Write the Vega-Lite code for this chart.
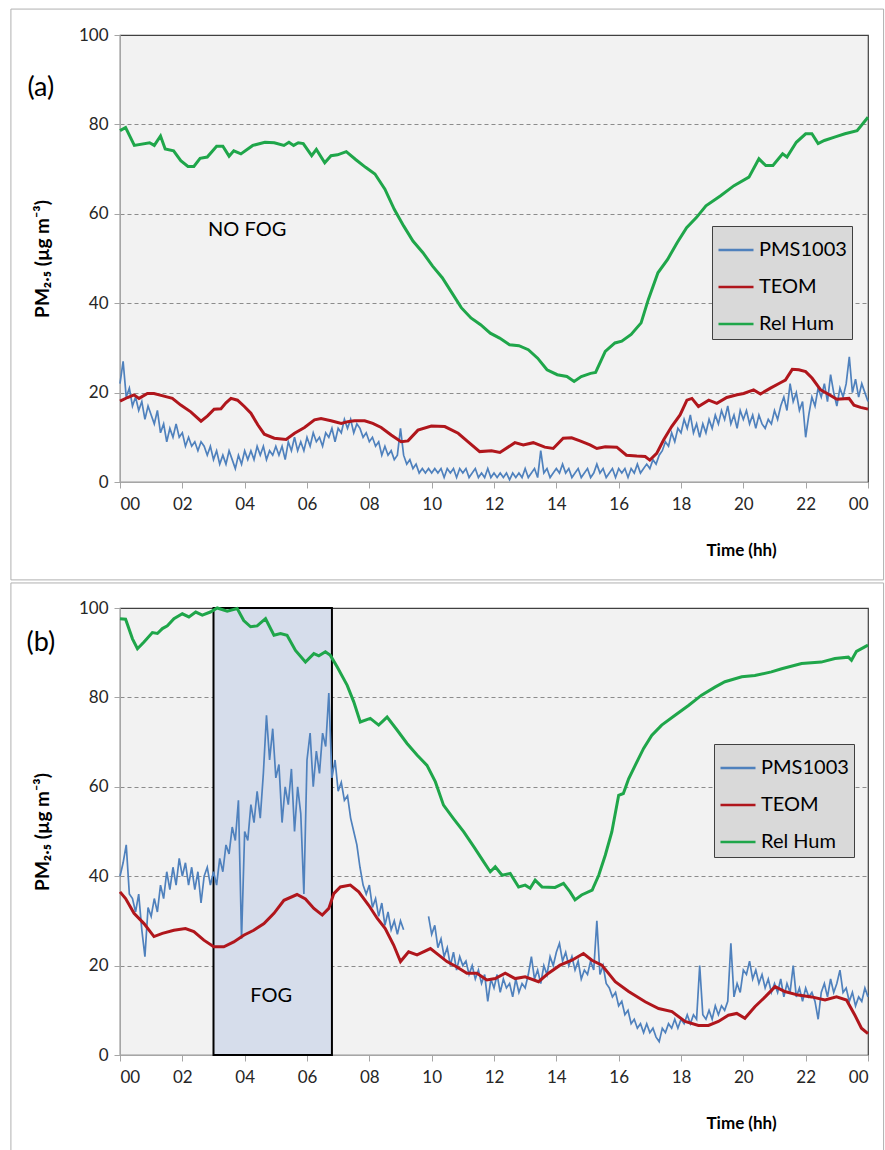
{
"$schema":"https://vega.github.io/schema/vega-lite/v6.json",
"padding":{"left":9,"top":7,"right":0,"bottom":0},
"background":"white",
"spacing":0,
"config":{
 "font":"Lato",
 "view":{"fill":"#f2f2f2","stroke":"#404040","strokeWidth":1.2},
 "axis":{"labelFont":"Lato","labelFontSize":17,"labelColor":"#262626","domainColor":"#a6a6a6","tickColor":"#a6a6a6","tickSize":6,"titleFont":"Lato","titleFontSize":19,"titleFontWeight":"bold","titleColor":"#000000"},
 "legend":{"symbolType":"stroke","symbolSize":1225,"symbolStrokeWidth":2.5,"labelFont":"Lato","labelFontSize":20,"labelColor":"#000000","fillColor":"#d9d9d9","strokeColor":"#404040","padding":5,"rowPadding":8,"labelOffset":4,"labelLimit":200}
},
"datasets":{
"pms":[
{"t":0,"a":22,"b":40},{"t":0.1,"a":27,"b":43},{"t":0.2,"a":19,"b":47},{"t":0.3,"a":21,"b":36},{"t":0.4,"a":17,"b":35},{"t":0.5,"a":19,"b":32},{"t":0.6,"a":16,"b":36},{"t":0.7,"a":18,"b":28},{"t":0.8,"a":14,"b":22},{"t":0.9,"a":17,"b":33},
{"t":1.0,"a":15,"b":31},{"t":1.1,"a":13,"b":35},{"t":1.2,"a":16,"b":32},{"t":1.3,"a":11,"b":38},{"t":1.4,"a":13,"b":35},{"t":1.5,"a":9,"b":41},{"t":1.6,"a":12,"b":37},{"t":1.7,"a":10,"b":42},{"t":1.8,"a":13,"b":38},{"t":1.9,"a":10,"b":44},
{"t":2.0,"a":11,"b":40},{"t":2.1,"a":8,"b":43},{"t":2.2,"a":10,"b":38},{"t":2.3,"a":8,"b":42},{"t":2.4,"a":9,"b":37},{"t":2.5,"a":7,"b":41},{"t":2.6,"a":9,"b":34},{"t":2.7,"a":8,"b":40},{"t":2.8,"a":6,"b":42},{"t":2.9,"a":8,"b":38},
{"t":3.0,"a":5,"b":41},{"t":3.1,"a":7,"b":38},{"t":3.2,"a":4,"b":44},{"t":3.3,"a":6,"b":41},{"t":3.4,"a":4,"b":47},{"t":3.5,"a":7,"b":45},{"t":3.6,"a":5,"b":51},{"t":3.7,"a":3,"b":48},{"t":3.8,"a":6,"b":57},{"t":3.9,"a":4,"b":26},
{"t":4.0,"a":7,"b":50},{"t":4.1,"a":5,"b":48},{"t":4.2,"a":7,"b":56},{"t":4.3,"a":5,"b":52},{"t":4.4,"a":8,"b":59},{"t":4.5,"a":6,"b":53},{"t":4.6,"a":8,"b":63},{"t":4.7,"a":5,"b":76},{"t":4.8,"a":7,"b":66},{"t":4.9,"a":6,"b":73},
{"t":5.0,"a":8,"b":62},{"t":5.1,"a":6,"b":65},{"t":5.2,"a":8,"b":52},{"t":5.3,"a":5,"b":60},{"t":5.4,"a":9,"b":56},{"t":5.5,"a":7,"b":64},{"t":5.6,"a":10,"b":50},{"t":5.7,"a":7,"b":60},{"t":5.8,"a":9,"b":54},{"t":5.9,"a":7,"b":36},
{"t":6.0,"a":10,"b":66},{"t":6.1,"a":8,"b":72},{"t":6.2,"a":11,"b":60},{"t":6.3,"a":9,"b":68},{"t":6.4,"a":10,"b":63},{"t":6.5,"a":8,"b":72},{"t":6.6,"a":11,"b":69},{"t":6.7,"a":10,"b":81},{"t":6.8,"a":12,"b":62},{"t":6.9,"a":9,"b":66},
{"t":7.0,"a":12,"b":59},{"t":7.1,"a":11,"b":61},{"t":7.2,"a":14,"b":57},{"t":7.3,"a":12,"b":58},{"t":7.4,"a":14,"b":53},{"t":7.5,"a":11,"b":50},{"t":7.6,"a":13,"b":47},{"t":7.7,"a":12,"b":42},{"t":7.8,"a":10,"b":38},{"t":7.9,"a":11,"b":36},
{"t":8.0,"a":9,"b":38},{"t":8.1,"a":10,"b":33},{"t":8.2,"a":8,"b":35},{"t":8.3,"a":9,"b":31},{"t":8.4,"a":6,"b":34},{"t":8.5,"a":8,"b":29},{"t":8.6,"a":6,"b":32},{"t":8.7,"a":7,"b":28},{"t":8.8,"a":5,"b":30},{"t":8.9,"a":6,"b":27},
{"t":9.0,"a":12,"b":30},{"t":9.1,"a":6,"b":28},{"t":9.2,"a":4,"b":null},{"t":9.3,"a":5,"b":null},{"t":9.4,"a":3,"b":null},{"t":9.5,"a":4,"b":null},{"t":9.6,"a":2,"b":null},{"t":9.7,"a":3,"b":null},{"t":9.8,"a":2,"b":null},{"t":9.9,"a":3,"b":31},
{"t":10.0,"a":2,"b":27},{"t":10.1,"a":3,"b":29},{"t":10.2,"a":2,"b":24},{"t":10.3,"a":3,"b":26},{"t":10.4,"a":1,"b":22},{"t":10.5,"a":3,"b":24},{"t":10.6,"a":2,"b":20},{"t":10.7,"a":3,"b":23},{"t":10.8,"a":1,"b":19},{"t":10.9,"a":3,"b":22},
{"t":11.0,"a":2,"b":20},{"t":11.1,"a":3,"b":21},{"t":11.2,"a":1,"b":18},{"t":11.3,"a":2,"b":20},{"t":11.4,"a":3,"b":17},{"t":11.5,"a":1,"b":19},{"t":11.6,"a":2,"b":16},{"t":11.7,"a":1,"b":18},{"t":11.8,"a":3,"b":12},{"t":11.9,"a":1,"b":17},
{"t":12.0,"a":2,"b":15},{"t":12.1,"a":1,"b":18},{"t":12.2,"a":2,"b":14},{"t":12.3,"a":1,"b":17},{"t":12.4,"a":2,"b":15},{"t":12.5,"a":0.5,"b":16},{"t":12.6,"a":2,"b":13},{"t":12.7,"a":1,"b":17},{"t":12.8,"a":2,"b":14},{"t":12.9,"a":1,"b":16},
{"t":13.0,"a":3,"b":15},{"t":13.1,"a":1,"b":18},{"t":13.2,"a":2,"b":22},{"t":13.3,"a":3,"b":17},{"t":13.4,"a":1,"b":19},{"t":13.5,"a":7,"b":16},{"t":13.6,"a":2,"b":20},{"t":13.7,"a":3,"b":18},{"t":13.8,"a":1,"b":22},{"t":13.9,"a":2,"b":20},
{"t":14.0,"a":3,"b":23},{"t":14.1,"a":2,"b":25},{"t":14.2,"a":4,"b":21},{"t":14.3,"a":2,"b":23},{"t":14.4,"a":3,"b":20},{"t":14.5,"a":1,"b":22},{"t":14.6,"a":2,"b":19},{"t":14.7,"a":3,"b":21},{"t":14.8,"a":1,"b":17},{"t":14.9,"a":2,"b":19},
{"t":15.0,"a":3,"b":18},{"t":15.1,"a":1,"b":21},{"t":15.2,"a":2,"b":19},{"t":15.3,"a":4,"b":30},{"t":15.4,"a":2,"b":18},{"t":15.5,"a":3,"b":20},{"t":15.6,"a":1,"b":16},{"t":15.7,"a":2,"b":15},{"t":15.8,"a":3,"b":13},{"t":15.9,"a":1,"b":14},
{"t":16.0,"a":3,"b":11},{"t":16.1,"a":2,"b":12},{"t":16.2,"a":3,"b":9},{"t":16.3,"a":1,"b":10},{"t":16.4,"a":3,"b":7},{"t":16.5,"a":2,"b":8},{"t":16.6,"a":4,"b":6},{"t":16.7,"a":2,"b":7},{"t":16.8,"a":3,"b":5},{"t":16.9,"a":4,"b":7},
{"t":17.0,"a":3,"b":5},{"t":17.1,"a":5,"b":6},{"t":17.2,"a":4,"b":4},{"t":17.3,"a":6,"b":3},{"t":17.4,"a":7,"b":6},{"t":17.5,"a":9,"b":5},{"t":17.6,"a":8,"b":7},{"t":17.7,"a":11,"b":6},{"t":17.8,"a":9,"b":8},{"t":17.9,"a":12,"b":6},
{"t":18.0,"a":11,"b":8},{"t":18.1,"a":14,"b":7},{"t":18.2,"a":12,"b":9},{"t":18.3,"a":15,"b":7},{"t":18.4,"a":11,"b":9},{"t":18.5,"a":13,"b":8},{"t":18.6,"a":10,"b":20},{"t":18.7,"a":13,"b":9},{"t":18.8,"a":11,"b":8},{"t":18.9,"a":14,"b":10},
{"t":19.0,"a":12,"b":8},{"t":19.1,"a":15,"b":11},{"t":19.2,"a":13,"b":9},{"t":19.3,"a":16,"b":11},{"t":19.4,"a":14,"b":10},{"t":19.5,"a":17,"b":12},{"t":19.6,"a":13,"b":25},{"t":19.7,"a":15,"b":13},{"t":19.8,"a":12,"b":16},{"t":19.9,"a":16,"b":14},
{"t":20.0,"a":14,"b":19},{"t":20.1,"a":16,"b":18},{"t":20.2,"a":13,"b":21},{"t":20.3,"a":15,"b":17},{"t":20.4,"a":12,"b":19},{"t":20.5,"a":15,"b":16},{"t":20.6,"a":13,"b":18},{"t":20.7,"a":12,"b":15},{"t":20.8,"a":14,"b":17},{"t":20.9,"a":13,"b":14},
{"t":21.0,"a":16,"b":16},{"t":21.1,"a":14,"b":14},{"t":21.2,"a":17,"b":17},{"t":21.3,"a":19,"b":13},{"t":21.4,"a":16,"b":16},{"t":21.5,"a":22,"b":14},{"t":21.6,"a":18,"b":20},{"t":21.7,"a":20,"b":13},{"t":21.8,"a":16,"b":15},{"t":21.9,"a":18,"b":12},
{"t":22.0,"a":10,"b":15},{"t":22.1,"a":15,"b":13},{"t":22.2,"a":19,"b":14},{"t":22.3,"a":17,"b":12},{"t":22.4,"a":21,"b":8},{"t":22.5,"a":19,"b":14},{"t":22.6,"a":22,"b":16},{"t":22.7,"a":18,"b":13},{"t":22.8,"a":24,"b":17},{"t":22.9,"a":20,"b":14},
{"t":23.0,"a":17,"b":16},{"t":23.1,"a":21,"b":19},{"t":23.2,"a":19,"b":14},{"t":23.3,"a":22,"b":15},{"t":23.4,"a":28,"b":12},{"t":23.5,"a":20,"b":14},{"t":23.6,"a":23,"b":11},{"t":23.7,"a":19,"b":13},{"t":23.8,"a":22,"b":12},{"t":23.9,"a":20,"b":15},
{"t":24.0,"a":18,"b":13}
],
"ra":[{"t":0,"v":78.6},{"t":0.18,"v":79.3},{"t":0.46,"v":75.3},{"t":0.95,"v":75.9},{"t":1.1,"v":75.3},{"t":1.3,"v":77.4},{"t":1.45,"v":74.5},{"t":1.72,"v":74.1},{"t":1.95,"v":71.9},{"t":2.18,"v":70.6},{"t":2.37,"v":70.6},{"t":2.57,"v":72.4},{"t":2.8,"v":72.7},{"t":3.1,"v":75.1},{"t":3.3,"v":75.1},{"t":3.5,"v":72.9},{"t":3.65,"v":74.1},{"t":3.88,"v":73.4},{"t":4.26,"v":75.3},{"t":4.65,"v":76.0},{"t":4.95,"v":75.9},{"t":5.26,"v":75.3},{"t":5.42,"v":76.0},{"t":5.57,"v":75.3},{"t":5.72,"v":75.9},{"t":5.88,"v":75.7},{"t":6.15,"v":73.0},{"t":6.3,"v":74.4},{"t":6.57,"v":71.4},{"t":6.77,"v":73.0},{"t":6.98,"v":73.2},{"t":7.26,"v":73.9},{"t":7.57,"v":72.1},{"t":7.88,"v":70.4},{"t":8.18,"v":68.9},{"t":8.5,"v":65.5},{"t":8.8,"v":61.0},{"t":9.1,"v":57.3},{"t":9.4,"v":53.9},{"t":9.72,"v":51.3},{"t":10.03,"v":48.3},{"t":10.34,"v":45.7},{"t":10.65,"v":42.3},{"t":10.95,"v":39.0},{"t":11.26,"v":36.7},{"t":11.57,"v":35.2},{"t":11.88,"v":33.3},{"t":12.18,"v":32.2},{"t":12.5,"v":30.7},{"t":12.8,"v":30.5},{"t":13.1,"v":29.6},{"t":13.4,"v":27.7},{"t":13.7,"v":25.1},{"t":14.03,"v":24.0},{"t":14.34,"v":23.6},{"t":14.57,"v":22.5},{"t":14.8,"v":23.6},{"t":15.1,"v":24.3},{"t":15.26,"v":24.5},{"t":15.57,"v":29.2},{"t":15.88,"v":31.1},{"t":16.1,"v":31.5},{"t":16.4,"v":33.0},{"t":16.72,"v":35.6},{"t":16.95,"v":40.8},{"t":17.26,"v":46.8},{"t":17.57,"v":49.8},{"t":17.88,"v":53.6},{"t":18.18,"v":56.9},{"t":18.5,"v":59.2},{"t":18.8,"v":61.8},{"t":19.26,"v":64.0},{"t":19.7,"v":66.3},{"t":20.18,"v":68.2},{"t":20.5,"v":72.3},{"t":20.72,"v":70.8},{"t":20.95,"v":70.8},{"t":21.26,"v":73.4},{"t":21.4,"v":72.7},{"t":21.7,"v":76.0},{"t":22.0,"v":77.9},{"t":22.2,"v":77.9},{"t":22.4,"v":75.7},{"t":22.6,"v":76.4},{"t":22.95,"v":77.2},{"t":23.26,"v":77.9},{"t":23.65,"v":78.6},{"t":24,"v":81.6}],
"ta":[{"t":0,"v":18.1},{"t":0.24,"v":18.9},{"t":0.45,"v":19.5},{"t":0.61,"v":18.7},{"t":0.88,"v":19.8},{"t":1.09,"v":19.8},{"t":1.41,"v":19.2},{"t":1.68,"v":18.7},{"t":1.95,"v":17.2},{"t":2.27,"v":15.7},{"t":2.6,"v":13.6},{"t":2.81,"v":14.8},{"t":3.02,"v":16.3},{"t":3.24,"v":16.4},{"t":3.4,"v":17.7},{"t":3.56,"v":18.7},{"t":3.77,"v":18.3},{"t":3.99,"v":16.9},{"t":4.2,"v":15.4},{"t":4.42,"v":12.8},{"t":4.63,"v":10.7},{"t":4.95,"v":9.8},{"t":5.33,"v":9.5},{"t":5.6,"v":10.9},{"t":5.92,"v":12.2},{"t":6.24,"v":13.9},{"t":6.45,"v":14.2},{"t":6.77,"v":13.7},{"t":7.1,"v":13.1},{"t":7.31,"v":13.5},{"t":7.52,"v":13.7},{"t":7.85,"v":13.7},{"t":8.11,"v":13.1},{"t":8.38,"v":12.2},{"t":8.7,"v":10.5},{"t":9.02,"v":9.0},{"t":9.24,"v":9.2},{"t":9.56,"v":11.6},{"t":9.99,"v":12.5},{"t":10.42,"v":12.4},{"t":10.85,"v":10.9},{"t":11.17,"v":9.0},{"t":11.54,"v":6.8},{"t":11.92,"v":7.0},{"t":12.19,"v":6.6},{"t":12.67,"v":8.8},{"t":12.94,"v":8.3},{"t":13.26,"v":8.8},{"t":13.63,"v":7.8},{"t":13.9,"v":7.5},{"t":14.22,"v":9.8},{"t":14.49,"v":9.9},{"t":14.76,"v":9.2},{"t":15.08,"v":8.3},{"t":15.3,"v":7.5},{"t":15.57,"v":7.9},{"t":15.94,"v":7.8},{"t":16.25,"v":6.0},{"t":16.58,"v":5.8},{"t":16.85,"v":5.7},{"t":17.0,"v":4.9},{"t":17.22,"v":6.4},{"t":17.44,"v":9.4},{"t":17.7,"v":12.4},{"t":17.97,"v":15.0},{"t":18.19,"v":18.3},{"t":18.35,"v":18.7},{"t":18.56,"v":16.9},{"t":18.89,"v":18.3},{"t":19.15,"v":17.6},{"t":19.47,"v":18.9},{"t":19.8,"v":19.5},{"t":20.01,"v":19.8},{"t":20.33,"v":20.6},{"t":20.55,"v":19.7},{"t":20.87,"v":21.0},{"t":21.19,"v":22.2},{"t":21.35,"v":22.8},{"t":21.57,"v":25.2},{"t":21.78,"v":25.1},{"t":22.0,"v":24.7},{"t":22.21,"v":23.2},{"t":22.48,"v":20.6},{"t":22.69,"v":19.8},{"t":23.0,"v":18.5},{"t":23.39,"v":18.7},{"t":23.55,"v":17.2},{"t":23.76,"v":16.7},{"t":24,"v":16.3}],
"rb":[{"t":0,"v":97.6},{"t":0.18,"v":97.5},{"t":0.4,"v":93.1},{"t":0.56,"v":90.9},{"t":0.77,"v":92.4},{"t":1.04,"v":94.5},{"t":1.2,"v":94.3},{"t":1.36,"v":95.4},{"t":1.52,"v":96.0},{"t":1.73,"v":97.6},{"t":2.0,"v":98.7},{"t":2.21,"v":98.0},{"t":2.43,"v":99.1},{"t":2.64,"v":98.4},{"t":2.9,"v":99.1},{"t":3.12,"v":100},{"t":3.44,"v":99.3},{"t":3.76,"v":99.9},{"t":3.97,"v":97.2},{"t":4.19,"v":95.8},{"t":4.4,"v":96.0},{"t":4.67,"v":97.6},{"t":4.94,"v":93.9},{"t":5.15,"v":94.3},{"t":5.36,"v":93.9},{"t":5.63,"v":90.5},{"t":5.95,"v":87.9},{"t":6.22,"v":89.8},{"t":6.38,"v":89.3},{"t":6.59,"v":90.2},{"t":6.75,"v":89.4},{"t":6.97,"v":86.8},{"t":7.29,"v":82.7},{"t":7.5,"v":79.0},{"t":7.71,"v":74.5},{"t":8.03,"v":75.3},{"t":8.3,"v":73.8},{"t":8.57,"v":75.6},{"t":8.89,"v":72.7},{"t":9.21,"v":69.7},{"t":9.53,"v":67.1},{"t":9.85,"v":64.8},{"t":10.12,"v":61.1},{"t":10.38,"v":55.9},{"t":10.7,"v":52.9},{"t":11.03,"v":49.9},{"t":11.35,"v":46.6},{"t":11.67,"v":43.2},{"t":11.88,"v":41.0},{"t":12.04,"v":42.1},{"t":12.26,"v":40.2},{"t":12.52,"v":40.6},{"t":12.79,"v":37.6},{"t":13.0,"v":38.0},{"t":13.16,"v":37.3},{"t":13.32,"v":39.1},{"t":13.54,"v":37.6},{"t":13.96,"v":37.5},{"t":14.23,"v":38.4},{"t":14.44,"v":36.5},{"t":14.6,"v":34.7},{"t":14.81,"v":35.8},{"t":15.15,"v":36.9},{"t":15.36,"v":40.2},{"t":15.57,"v":44.7},{"t":15.78,"v":49.9},{"t":16.0,"v":58.1},{"t":16.15,"v":58.5},{"t":16.32,"v":61.8},{"t":16.53,"v":64.8},{"t":16.8,"v":68.6},{"t":17.06,"v":71.5},{"t":17.38,"v":73.8},{"t":17.81,"v":76.0},{"t":18.24,"v":78.2},{"t":18.66,"v":80.5},{"t":19.09,"v":82.3},{"t":19.41,"v":83.5},{"t":19.95,"v":84.6},{"t":20.37,"v":84.9},{"t":20.9,"v":85.7},{"t":21.23,"v":86.4},{"t":21.87,"v":87.6},{"t":22.5,"v":87.9},{"t":22.94,"v":88.7},{"t":23.37,"v":89.0},{"t":23.47,"v":88.3},{"t":23.63,"v":90.3},{"t":24,"v":91.7}],
"tb":[{"t":0,"v":36.5},{"t":0.18,"v":35.0},{"t":0.45,"v":31.7},{"t":0.77,"v":29.4},{"t":1.09,"v":26.5},{"t":1.36,"v":27.2},{"t":1.73,"v":27.9},{"t":2.1,"v":28.3},{"t":2.37,"v":27.6},{"t":2.69,"v":25.7},{"t":3.01,"v":24.2},{"t":3.33,"v":24.2},{"t":3.65,"v":25.3},{"t":3.97,"v":26.8},{"t":4.29,"v":27.9},{"t":4.62,"v":29.4},{"t":4.94,"v":31.7},{"t":5.26,"v":34.6},{"t":5.68,"v":35.9},{"t":5.95,"v":34.9},{"t":6.22,"v":32.8},{"t":6.49,"v":31.3},{"t":6.7,"v":32.8},{"t":6.86,"v":36.1},{"t":7.07,"v":37.6},{"t":7.39,"v":38.0},{"t":7.66,"v":36.5},{"t":7.98,"v":33.5},{"t":8.25,"v":30.6},{"t":8.51,"v":28.3},{"t":8.78,"v":24.6},{"t":9.0,"v":20.9},{"t":9.26,"v":23.1},{"t":9.53,"v":22.4},{"t":9.96,"v":23.8},{"t":10.22,"v":22.4},{"t":10.49,"v":20.9},{"t":10.81,"v":19.7},{"t":11.13,"v":18.3},{"t":11.45,"v":18.3},{"t":11.77,"v":16.8},{"t":12.04,"v":17.1},{"t":12.36,"v":18.3},{"t":12.68,"v":17.1},{"t":13.0,"v":17.5},{"t":13.43,"v":16.4},{"t":13.75,"v":18.3},{"t":14.12,"v":20.1},{"t":14.5,"v":21.2},{"t":14.87,"v":22.7},{"t":15.14,"v":21.2},{"t":15.46,"v":20.1},{"t":15.89,"v":16.4},{"t":16.32,"v":14.2},{"t":16.85,"v":11.9},{"t":17.28,"v":10.4},{"t":17.71,"v":9.7},{"t":18.13,"v":7.5},{"t":18.56,"v":6.6},{"t":18.88,"v":6.6},{"t":19.2,"v":7.5},{"t":19.52,"v":8.9},{"t":19.79,"v":9.3},{"t":20.05,"v":8.2},{"t":20.37,"v":10.8},{"t":20.7,"v":13.0},{"t":21.02,"v":15.3},{"t":21.33,"v":14.2},{"t":21.76,"v":13.4},{"t":22.19,"v":13.0},{"t":22.62,"v":12.3},{"t":22.99,"v":13.0},{"t":23.31,"v":12.3},{"t":23.58,"v":8.9},{"t":23.79,"v":6.0},{"t":24,"v":4.8}],
"one":[{"k":0}]
},
"vconcat":[
{
 "width":748,"height":447,
 "layer":[
  {"data":{"name":"one"},"mark":{"type":"rect","fillOpacity":0,"stroke":"#b0b0b0","strokeWidth":1,"clip":false},"encoding":{"x":{"datum":-3.5,"scale":{"domain":[0,24],"nice":false,"zero":false}},"x2":{"datum":24.5},"y":{"datum":105.8,"scale":{"domain":[0,100],"nice":false}},"y2":{"datum":-21.9}}},
  {"data":{"name":"pms"},"mark":{"type":"line","strokeWidth":1.7},"encoding":{
    "x":{"field":"t","type":"quantitative","scale":{"domain":[0,24],"nice":false,"zero":false},"axis":{"values":[0,2,4,6,8,10,12,14,16,18,20,22,24],"labelExpr":"datum.value==24?'00':(datum.value<10?'0'+datum.value:''+datum.value)","grid":false,"labelPadding":8,"title":"Time (hh)","titleFontSize":17,"titleX":621,"titleY":68,"titleAlign":"center","titleBaseline":"middle"}},
    "y":{"field":"a","type":"quantitative","scale":{"domain":[0,100],"nice":false},"axis":{"values":[0,20,40,60,80,100],"grid":true,"gridDash":[4,3],"gridColor":"#8c8c8c","gridOpacity":{"condition":{"test":"datum.value==0||datum.value==100","value":0},"value":1},"labelPadding":6,"title":"PM₂.₅ (µg m⁻³)","titleX":-78,"titleY":223.5,"titleAlign":"center","titleBaseline":"middle"}},
    "color":{"datum":"PMS1003","scale":{"domain":["PMS1003","TEOM","Rel Hum"],"range":["#4f81bd","#b0161c","#1fa64a"]},"legend":{"orient":"none","legendX":592,"legendY":191,"title":null}}}},
  {"data":{"name":"ta"},"mark":{"type":"line","strokeWidth":3},"encoding":{"x":{"field":"t","type":"quantitative"},"y":{"field":"v","type":"quantitative"},"color":{"datum":"TEOM"}}},
  {"data":{"name":"ra"},"mark":{"type":"line","strokeWidth":3},"encoding":{"x":{"field":"t","type":"quantitative"},"y":{"field":"v","type":"quantitative"},"color":{"datum":"Rel Hum"}}},
  {"data":{"name":"one"},"mark":{"type":"text","text":"NO FOG","font":"Lato","fontSize":20,"color":"#000000"},"encoding":{"x":{"datum":4.08},"y":{"datum":56.4}}},
  {"data":{"name":"one"},"mark":{"type":"text","text":"(a)","font":"Lato","fontSize":27,"color":"#000000","clip":false},"encoding":{"x":{"datum":-2.54},"y":{"datum":88.1}}}
 ]
},
{
 "width":748,"height":447,
 "layer":[
  {"data":{"name":"one"},"mark":{"type":"rect","fillOpacity":0,"stroke":"#b0b0b0","strokeWidth":1,"clip":false},"encoding":{"x":{"datum":-3.5,"scale":{"domain":[0,24],"nice":false,"zero":false}},"x2":{"datum":24.5},"y":{"datum":105.6,"scale":{"domain":[0,100],"nice":false}},"y2":{"datum":-21.9}}},
  {"data":{"name":"one"},"mark":{"type":"rect","fill":"#d6ddeb","stroke":"#000000","strokeWidth":2},"encoding":{"x":{"datum":3.0},"x2":{"datum":6.8},"y":{"datum":0},"y2":{"datum":100}}},
  {"data":{"name":"pms"},"mark":{"type":"line","strokeWidth":1.7,"invalid":"break-paths-show-domains"},"encoding":{
    "x":{"field":"t","type":"quantitative","scale":{"domain":[0,24],"nice":false,"zero":false},"axis":{"values":[0,2,4,6,8,10,12,14,16,18,20,22,24],"labelExpr":"datum.value==24?'00':(datum.value<10?'0'+datum.value:''+datum.value)","grid":false,"labelPadding":8,"title":"Time (hh)","titleFontSize":17,"titleX":621,"titleY":68,"titleAlign":"center","titleBaseline":"middle"}},
    "y":{"field":"b","type":"quantitative","scale":{"domain":[0,100],"nice":false},"axis":{"values":[0,20,40,60,80,100],"grid":true,"gridDash":[4,3],"gridColor":"#8c8c8c","gridOpacity":{"condition":{"test":"datum.value==0||datum.value==100","value":0},"value":1},"labelPadding":6,"title":"PM₂.₅ (µg m⁻³)","titleX":-78,"titleY":223.5,"titleAlign":"center","titleBaseline":"middle"}},
    "color":{"datum":"PMS1003","scale":{"domain":["PMS1003","TEOM","Rel Hum"],"range":["#4f81bd","#b0161c","#1fa64a"]},"legend":{"orient":"none","legendX":594,"legendY":136,"title":null}}}},
  {"data":{"name":"tb"},"mark":{"type":"line","strokeWidth":3},"encoding":{"x":{"field":"t","type":"quantitative"},"y":{"field":"v","type":"quantitative"},"color":{"datum":"TEOM"}}},
  {"data":{"name":"rb"},"mark":{"type":"line","strokeWidth":3},"encoding":{"x":{"field":"t","type":"quantitative"},"y":{"field":"v","type":"quantitative"},"color":{"datum":"Rel Hum"}}},
  {"data":{"name":"one"},"mark":{"type":"text","text":"FOG","font":"Lato","fontSize":20,"color":"#000000"},"encoding":{"x":{"datum":4.85},"y":{"datum":13.2}}},
  {"data":{"name":"one"},"mark":{"type":"text","text":"(b)","font":"Lato","fontSize":27,"color":"#000000","clip":false},"encoding":{"x":{"datum":-2.54},"y":{"datum":92.2}}}
 ]
}
],
"resolve":{"scale":{"color":"independent"}}
}
